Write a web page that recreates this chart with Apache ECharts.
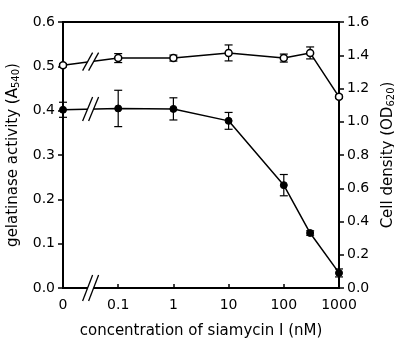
<!DOCTYPE html>
<html>
<head>
<meta charset="utf-8">
<script src="https://cdn.jsdelivr.net/npm/echarts@6/dist/echarts.min.js"></script>
<style>
  html, body { margin: 0; padding: 0; background: #fff; }
  #chart { width: 394px; height: 342px; }
</style>
</head>
<body>
<div id="chart"></div>
<script>
// siamycin I concentration (nM); 0 is drawn at the broken-axis slot (0.01)
const concentrations = [0, 0.1, 1, 10, 100, 300, 1000];
const gelatinase = [0.402, 0.405, 0.404, 0.377, 0.232, 0.124, 0.034];
const gelatinaseErr = [0.017, 0.041, 0.025, 0.019, 0.024, 0.005, 0.009];
const cellDensity = [1.34, 1.383, 1.383, 1.414, 1.383, 1.414, 1.15];
const cellDensityErr = [0.01, 0.027, 0.018, 0.048, 0.024, 0.036, 0.01];
const leftTicks = [0, 0.1, 0.2, 0.3, 0.4, 0.5, 0.6];
const rightTicks = [0, 0.2, 0.4, 0.6, 0.8, 1.0, 1.2, 1.4, 1.6];

const ZERO_POS = 0.01;
const font = 'DejaVu Sans, sans-serif';
const xOf = (c) => (c === 0 ? ZERO_POS : c);

const chart = echarts.init(document.getElementById('chart'));

const errBars = (vals, errs) => concentrations.map((c, i) => [xOf(c), vals[i], errs[i]]);
const linePts = (vals) => concentrations.map((c, i) => [xOf(c), vals[i]]);

function renderErr(params, api) {
  const x = api.value(0), y = api.value(1), e = api.value(2);
  const hi = api.coord([x, y + e]);
  const lo = api.coord([x, y - e]);
  const w = 4;
  const st = { stroke: '#000', lineWidth: 1.2 };
  return {
    type: 'group',
    children: [
      { type: 'line', shape: { x1: hi[0], y1: hi[1], x2: lo[0], y2: lo[1] }, style: st },
      { type: 'line', shape: { x1: hi[0] - w, y1: hi[1], x2: hi[0] + w, y2: hi[1] }, style: st },
      { type: 'line', shape: { x1: lo[0] - w, y1: lo[1], x2: lo[0] + w, y2: lo[1] }, style: st },
    ],
  };
}

const titleRich = {
  a: { fontFamily: font, fontSize: 15, color: '#000' },
  s: { fontFamily: font, fontSize: 10, color: '#000', verticalAlign: 'bottom', padding: [7, 0, 0, 0] },
};

const option = {
  animation: false,
  backgroundColor: '#fff',
  grid: {
    left: 63, right: 55, top: 22, bottom: 54,
    outerBoundsMode: 'none',
    containLabel: false,
    show: true, borderColor: '#000', borderWidth: 2,
  },
  xAxis: {
    type: 'log',
    logBase: 10,
    min: ZERO_POS,
    max: 1000,
    name: 'concentration of siamycin I (nM)',
    nameLocation: 'middle',
    nameGap: 36,
    nameTextStyle: { fontFamily: font, fontSize: 15, color: '#000' },
    axisLine: { lineStyle: { color: '#000', width: 2 } },
    axisTick: { inside: true, length: 4, lineStyle: { color: '#000', width: 1.5 } },
    minorTick: { show: false },
    splitLine: { show: false },
    axisLabel: {
      margin: 10,
      fontFamily: font, fontSize: 14, color: '#000',
      formatter: (v) => (v < 0.05 ? '0' : v < 1 ? '0.1' : String(Math.round(v))),
    },
  },
  yAxis: [
    {
      type: 'value', min: 0, max: 0.6, interval: 0.1, position: 'left',
      name: '{a|gelatinase activity (A}{s|540}{a|)}',
      nameLocation: 'middle', nameRotate: 90, nameGap: 37,
      nameTextStyle: { rich: titleRich },
      axisLine: { show: true, lineStyle: { color: '#000', width: 2 } },
      axisTick: { show: true, length: 5, lineStyle: { color: '#000', width: 1.5 } },
      splitLine: { show: false },
      axisLabel: {
        margin: 8, fontFamily: font, fontSize: 14, color: '#000',
        formatter: (v) => (leftTicks.includes(Math.round(v * 10) / 10) ? v.toFixed(1) : ''),
      },
    },
    {
      type: 'value', min: 0, max: 1.6, interval: 0.2, position: 'right',
      name: '{a|Cell density (OD}{s|620}{a|)}',
      nameLocation: 'middle', nameRotate: 90, nameGap: 36,
      nameTextStyle: { rich: titleRich },
      axisLine: { show: true, lineStyle: { color: '#000', width: 2 } },
      axisTick: { show: true, length: 5, lineStyle: { color: '#000', width: 1.5 } },
      splitLine: { show: false },
      axisLabel: {
        margin: 8, fontFamily: font, fontSize: 14, color: '#000',
        formatter: (v) => (rightTicks.includes(Math.round(v * 10) / 10) ? v.toFixed(1) : ''),
      },
    },
  ],
  series: [
    {
      type: 'custom', yAxisIndex: 0, renderItem: renderErr, z: 2,
      data: errBars(gelatinase, gelatinaseErr),
    },
    {
      type: 'custom', yAxisIndex: 1, renderItem: renderErr, z: 2,
      data: errBars(cellDensity, cellDensityErr),
    },
    {
      name: 'gelatinase', type: 'line', yAxisIndex: 0, z: 5,
      symbol: 'circle', symbolSize: 7,
      lineStyle: { color: '#000', width: 1.5 },
      itemStyle: { color: '#000', borderColor: '#000', borderWidth: 1 },
      data: linePts(gelatinase),
    },
    {
      name: 'cell density', type: 'line', yAxisIndex: 1, z: 5,
      symbol: 'circle', symbolSize: 7,
      lineStyle: { color: '#000', width: 1.5 },
      itemStyle: { color: '#fff', borderColor: '#000', borderWidth: 1.5 },
      data: linePts(cellDensity),
    },
  ],
};

chart.setOption(option);

// axis break "//" marks, placed between 0 and 0.1 using the chart's own scales
function breakMark(cx, cy, h) {
  const w = 5, gap = 6;
  const st = { stroke: '#000', lineWidth: 1.3 };
  return [
    {
      type: 'polygon', z: 100,
      shape: { points: [
        [cx - gap / 2 - w, cy + h / 2], [cx - gap / 2 + w, cy - h / 2],
        [cx + gap / 2 + w, cy - h / 2], [cx + gap / 2 - w, cy + h / 2],
      ] },
      style: { fill: '#fff' },
    },
    { type: 'line', z: 101, shape: { x1: cx - gap / 2 - w, y1: cy + h / 2, x2: cx - gap / 2 + w, y2: cy - h / 2 }, style: st },
    { type: 'line', z: 101, shape: { x1: cx + gap / 2 - w, y1: cy + h / 2, x2: cx + gap / 2 + w, y2: cy - h / 2 }, style: st },
  ];
}

const breakX = Math.sqrt(ZERO_POS * 0.1);
const midY = (vals, axis) => {
  const a = chart.convertToPixel({ xAxisIndex: 0, yAxisIndex: axis }, [ZERO_POS, vals[0]]);
  const b = chart.convertToPixel({ xAxisIndex: 0, yAxisIndex: axis }, [0.1, vals[1]]);
  return (a[1] + b[1]) / 2;
};
const bx = chart.convertToPixel({ xAxisIndex: 0, yAxisIndex: 0 }, [breakX, 0]);
const gfx = []
  .concat(breakMark(bx[0], bx[1], 26))
  .concat(breakMark(bx[0], midY(gelatinase, 0), 24))
  .concat(breakMark(bx[0], midY(cellDensity, 1), 18));

chart.setOption({ graphic: { elements: gfx } });
</script>
</body>
</html>
